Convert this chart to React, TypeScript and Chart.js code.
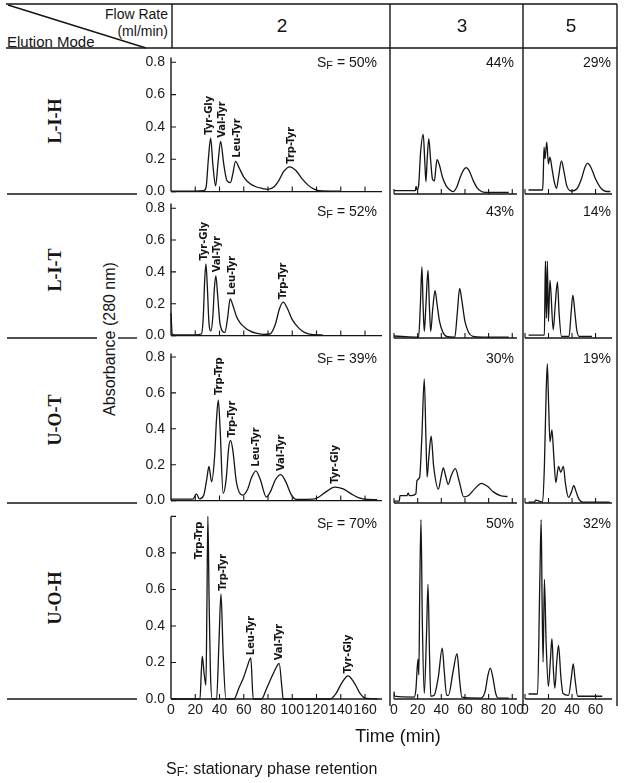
import React, { useEffect, useRef } from 'react';
import { Chart, registerables } from 'chart.js';
Chart.register(...registerables);

// ---------- data: time (min) / absorbance (280 nm) ----------
// L-I-H
const lih2T = [0, 20, 27, 29, 30.8, 32.7, 34.6, 36.8, 38.8, 40.9, 43.5, 46, 49, 51, 53.2, 56, 60, 65, 70, 75, 80, 85, 89, 93, 98, 103, 108, 113, 118, 122, 140];
const lih2A = [0.003, 0.003, 0.006, 0.03, 0.2, 0.33, 0.16, 0.035, 0.18, 0.31, 0.17, 0.07, 0.055, 0.11, 0.187, 0.15, 0.09, 0.05, 0.03, 0.02, 0.014, 0.03, 0.07, 0.125, 0.153, 0.13, 0.08, 0.04, 0.015, 0.006, 0.003];
const lih3T = [0, 18, 18.6, 19.5, 20.8, 22.5, 24.7, 26, 27, 28, 29.4, 31, 32.5, 34.2, 35.3, 36.4, 38.5, 41, 44, 47, 50, 53, 56, 59, 61, 63.5, 67, 70.5, 74, 77, 85, 97];
const lih3A = [0.02, 0.02, 0.045, 0.025, 0.05, 0.25, 0.356, 0.2, 0.073, 0.2, 0.33, 0.2, 0.09, 0.078, 0.15, 0.205, 0.17, 0.1, 0.05, 0.025, 0.014, 0.04, 0.1, 0.145, 0.157, 0.14, 0.08, 0.035, 0.015, 0.01, 0.01, 0.01];
const lih5T = [3, 15, 15.5, 16.2, 17, 18.5, 19.9, 21.2, 23, 25, 26.8, 28.5, 31, 33, 35.5, 39.3, 44, 48, 51, 53.2, 56, 60, 64, 67, 70, 72.6];
const lih5A = [0.024, 0.024, 0.1, 0.28, 0.21, 0.31, 0.18, 0.22, 0.15, 0.07, 0.034, 0.1, 0.197, 0.14, 0.05, 0.018, 0.03, 0.09, 0.16, 0.183, 0.16, 0.09, 0.04, 0.02, 0.015, 0.015];
// L-I-T
const lit2T = [0, 1, 3, 20, 25, 26.5, 27.8, 28.8, 30, 31.3, 32.9, 34.5, 35.8, 37, 38.5, 40.5, 44.4, 46.5, 48.8, 51, 54, 57, 61, 65, 70, 76, 81.5, 86, 89.5, 92.5, 96, 100, 105, 110, 117, 125];
const lit2A = [0.14, 0.01, 0.005, 0.005, 0.01, 0.1, 0.35, 0.45, 0.3, 0.08, 0.03, 0.12, 0.3, 0.375, 0.25, 0.07, 0.02, 0.1, 0.23, 0.19, 0.12, 0.08, 0.05, 0.03, 0.015, 0.008, 0.01, 0.07, 0.17, 0.21, 0.17, 0.1, 0.05, 0.02, 0.006, 0.005];
const lit3T = [0, 10, 20.8, 22.3, 23.6, 24.6, 25.6, 27, 28.75, 29.9, 31, 32.8, 34.7, 36.5, 38.5, 41, 44.4, 51.4, 53.5, 55.5, 57.5, 60, 63, 66.7, 75, 97];
const lit3A = [0.012, 0.008, 0.005, 0.2, 0.43, 0.2, 0.04, 0.2, 0.41, 0.2, 0.04, 0.18, 0.287, 0.2, 0.1, 0.04, 0.01, 0.005, 0.15, 0.3, 0.22, 0.1, 0.035, 0.01, 0.005, 0.005];
const lit5T = [3, 16.5, 17, 17.4, 18.2, 19, 19.9, 21.25, 24, 25.7, 27.6, 29, 31, 37.5, 39.2, 40.7, 42.5, 44, 46, 57];
const lit5A = [0.018, 0.018, 0.3, 0.466, 0.12, 0.466, 0.1, 0.35, 0.05, 0.2, 0.34, 0.15, 0.01, 0.01, 0.15, 0.26, 0.15, 0.05, 0.01, 0.01];
// U-O-T
const uot2T = [0, 18, 21, 23.5, 27, 29.5, 31.3, 33.5, 36, 37.5, 39, 40.5, 43, 45.5, 47.5, 49.1, 51, 54, 59, 63, 66.5, 70, 73.5, 78.7, 82, 86, 90.5, 95, 99, 103.4, 117, 122, 128, 135, 142, 148, 155, 162, 170];
const uot2A = [0.008, 0.008, 0.037, 0.01, 0.03, 0.12, 0.19, 0.105, 0.25, 0.45, 0.56, 0.4, 0.04, 0.12, 0.29, 0.335, 0.28, 0.1, 0.03, 0.06, 0.13, 0.166, 0.12, 0.02, 0.05, 0.115, 0.145, 0.1, 0.035, 0.007, 0.008, 0.02, 0.05, 0.075, 0.065, 0.04, 0.015, 0.006, 0.005];
const uot3T = [0, 4.5, 5, 11, 12, 13, 14.7, 18.5, 19.4, 21.7, 23.5, 25.6, 27, 28, 29.5, 31.4, 33.5, 37.5, 39.8, 41.7, 43.5, 45.8, 48.5, 51.9, 55, 59, 63, 68, 74, 79, 84, 90, 96];
const uot3A = [0.01, 0.01, 0.04, 0.04, 0.055, 0.04, 0.04, 0.05, 0.12, 0.14, 0.35, 0.67, 0.35, 0.14, 0.25, 0.36, 0.2, 0.075, 0.14, 0.19, 0.15, 0.1, 0.15, 0.185, 0.12, 0.033, 0.04, 0.075, 0.106, 0.09, 0.06, 0.04, 0.035];
const uot5T = [3, 8, 9, 15, 16.5, 18, 19, 20, 21.25, 22.9, 24.5, 26.25, 28.5, 30.4, 32.6, 34.5, 37, 39.5, 41.5, 43.5, 46, 49, 60, 72];
const uot5A = [0.005, 0.005, 0.015, 0.005, 0.2, 0.6, 0.75, 0.55, 0.33, 0.395, 0.25, 0.11, 0.197, 0.166, 0.197, 0.1, 0.03, 0.06, 0.093, 0.06, 0.02, 0.005, 0.005, 0.005];
// U-O-H
const uoh2T = [0, 23.9, 25, 25.8, 27.3, 28.8, 29.6, 30.4, 31.4, 32.5, 34, 37.6, 39.5, 41.2, 43, 45.3, 51.9, 56, 60, 63, 65.8, 67.8, 74.6, 79, 83, 86.5, 89.2, 91.5, 92.5, 131, 136, 141, 146, 151, 156, 161, 170];
const uoh2A = [0, 0, 0.15, 0.234, 0.14, 0.076, 0.5, 1.0, 0.55, 0.15, 0, 0, 0.3, 0.575, 0.25, 0, 0, 0.06, 0.12, 0.18, 0.225, 0, 0, 0.06, 0.12, 0.17, 0.195, 0.06, 0, 0, 0.03, 0.09, 0.127, 0.09, 0.03, 0.003, 0];
const uoh3T = [0, 0.5, 17, 18.5, 20.3, 21, 21.8, 22.8, 24, 25.6, 27.5, 28.75, 30, 31.1, 34, 37.5, 40.8, 42.5, 44.5, 46, 50, 53.3, 55.5, 57.4, 73.6, 77, 79.5, 81.4, 83.5, 86, 88, 97];
const uoh3A = [0.04, 0.015, 0.01, 0.05, 0.215, 0.13, 0.6, 0.97, 0.4, 0.03, 0.35, 0.62, 0.25, 0.015, 0.02, 0.12, 0.275, 0.15, 0.02, 0.02, 0.15, 0.245, 0.1, 0.01, 0.005, 0.04, 0.13, 0.167, 0.12, 0.03, 0.005, 0.005];
const uoh5T = [3, 10.7, 12.5, 13.75, 14.6, 15.4, 16.5, 18, 19.9, 21.5, 22.9, 24.2, 25.4, 27, 28.5, 30.5, 32.3, 37, 39.5, 41, 42.7, 44.8, 50, 65.7];
const uoh5A = [0.027, 0.027, 0.6, 0.97, 0.5, 0.2, 0.647, 0.3, 0.067, 0.2, 0.326, 0.15, 0.058, 0.2, 0.29, 0.12, 0.03, 0.02, 0.12, 0.19, 0.1, 0.015, 0.015, 0.015];

// peak labels (text, anchored at time / absorbance of the label's lower end)
const lih2Peaks = [
  { text: 'Tyr-Gly', t: 31.1, v: 0.352 },
  { text: 'Val-Tyr', t: 41.8, v: 0.333 },
  { text: 'Leu-Tyr', t: 54.2, v: 0.209 },
  { text: 'Trp-Tyr', t: 98.7, v: 0.173 },
];
const lit2Peaks = [
  { text: 'Tyr-Gly', t: 27.5, v: 0.471 },
  { text: 'Val-Tyr', t: 37.7, v: 0.397 },
  { text: 'Leu-Tyr', t: 50.1, v: 0.254 },
  { text: 'Trp-Tyr', t: 92.8, v: 0.228 },
];
const uot2Peaks = [
  { text: 'Trp-Trp', t: 39.6, v: 0.588 },
  { text: 'Trp-Tyr', t: 50.1, v: 0.352 },
  { text: 'Leu-Tyr', t: 70.1, v: 0.189 },
  { text: 'Val-Tyr', t: 90.7, v: 0.165 },
  { text: 'Tyr-Gly', t: 135.3, v: 0.094 },
];
const uoh2Peaks = [
  { text: 'Trp-Trp', t: 23.3, v: 0.766 },
  { text: 'Trp-Tyr', t: 43.1, v: 0.593 },
  { text: 'Leu-Tyr', t: 66, v: 0.24 },
  { text: 'Val-Tyr', t: 89.1, v: 0.212 },
  { text: 'Tyr-Gly', t: 146.2, v: 0.14 },
];

// headers / annotations
const flowRates = ['2', '3', '5'];
const elutionModes = ['L-I-H', 'L-I-T', 'U-O-T', 'U-O-H'];
const sfCol2 = ['50%', '52%', '39%', '70%'];
const sfCol3 = ['44%', '43%', '30%', '50%'];
const sfCol5 = ['29%', '14%', '19%', '32%'];

// tick values
const xTicks2 = [0, 20, 40, 60, 80, 100, 120, 140, 160];
const xTicks3 = [0, 20, 40, 60, 80, 100];
const xTicks5 = [0, 20, 40, 60];
const yTicks = [0, 0.2, 0.4, 0.6, 0.8];
const yTicksTall = [0, 0.2, 0.4, 0.6, 0.8, 1.0];

// ---------- layout ----------
const COLS = [
  { l: 171, r: 382, xmax: 174, ticks: xTicks2 },
  { l: 394, r: 517, xmax: 104, ticks: xTicks3 },
  { l: 525, r: 612, xmax: 74, ticks: xTicks5 },
];
const ROWS = [
  { t: 55, b: 194, ymax: 0.83, ticks: yTicks },
  { t: 201, b: 338, ymax: 0.83, ticks: yTicks },
  { t: 351, b: 503, ymax: 0.82, ticks: yTicks },
  { t: 514, b: 699, ymax: 1.0, ticks: yTicksTall },
];
const COL_X = [282, 462, 571];
const ROW_Y = [121, 270, 420, 598];
const SF_Y = [62, 211, 358, 523];
const SF_RIGHT = [377, 514, 611];

const PANELS = [
  { t: lih2T, a: lih2A, col: 0, row: 0, peaks: lih2Peaks },
  { t: lih3T, a: lih3A, col: 1, row: 0, peaks: [] },
  { t: lih5T, a: lih5A, col: 2, row: 0, peaks: [] },
  { t: lit2T, a: lit2A, col: 0, row: 1, peaks: lit2Peaks },
  { t: lit3T, a: lit3A, col: 1, row: 1, peaks: [] },
  { t: lit5T, a: lit5A, col: 2, row: 1, peaks: [] },
  { t: uot2T, a: uot2A, col: 0, row: 2, peaks: uot2Peaks },
  { t: uot3T, a: uot3A, col: 1, row: 2, peaks: [] },
  { t: uot5T, a: uot5A, col: 2, row: 2, peaks: [] },
  { t: uoh2T, a: uoh2A, col: 0, row: 3, peaks: uoh2Peaks },
  { t: uoh3T, a: uoh3A, col: 1, row: 3, peaks: [] },
  { t: uoh5T, a: uoh5A, col: 2, row: 3, peaks: [] },
];

const FONT = '"Liberation Sans", Arial, Helvetica, sans-serif';
const INK = '#151515';

const axesPlugin = {
  id: 'axes',
  afterDatasetsDraw(chart: any, _args: any, opts: any) {
    const { ctx, chartArea, scales } = chart;
    const { left, right, top, bottom } = chartArea;
    const x = scales.x, y = scales.y;
    ctx.save();
    ctx.strokeStyle = INK;
    ctx.lineWidth = 1.4;
    ctx.beginPath();
    ctx.moveTo(left, bottom);
    ctx.lineTo(right, bottom);
    if (opts.yAxis) {
      ctx.moveTo(left, bottom);
      ctx.lineTo(left, top);
    }
    ctx.stroke();
    ctx.lineWidth = 1.1;
    ctx.beginPath();
    (opts.xTicks as number[]).forEach((v) => {
      if (opts.yAxis && v === 0) return;
      const px = x.getPixelForValue(v);
      ctx.moveTo(px, bottom);
      ctx.lineTo(px, bottom - 5);
    });
    if (opts.yAxis) {
      (opts.yTicks as number[]).forEach((v) => {
        const py = y.getPixelForValue(v);
        ctx.moveTo(left, py);
        ctx.lineTo(left + 5, py);
      });
    }
    ctx.stroke();
    ctx.fillStyle = INK;
    ctx.font = 'bold 11px "Liberation Sans Narrow", "Arial Narrow", "DejaVu Sans Condensed", sans-serif';
    ctx.textAlign = 'left';
    ctx.textBaseline = 'middle';
    (opts.peaks as any[]).forEach((p) => {
      const px = x.getPixelForValue(p.t);
      const py = y.getPixelForValue(p.v);
      ctx.save();
      ctx.translate(px, py);
      ctx.rotate(-Math.PI / 2);
      ctx.fillText(p.text, 0, 0);
      ctx.restore();
    });
    ctx.restore();
  },
};

function Panel({ p }: { p: any }) {
  const ref = useRef<HTMLCanvasElement>(null);
  const c = COLS[p.col];
  const r = ROWS[p.row];
  const PAD = 12;
  const yW = p.col === 0 ? 36 : 0;
  const xH = p.row === 3 ? 22 : 0;
  const left = c.l - PAD - yW;
  const top = r.t - PAD;
  const width = c.r - c.l + 2 * PAD + yW;
  const height = r.b - r.t + 2 * PAD + xH;

  useEffect(() => {
    const chart = new Chart(ref.current as HTMLCanvasElement, {
      type: 'line',
      data: {
        datasets: [
          {
            data: p.t.map((t: number, i: number) => ({ x: t, y: p.a[i] })),
            borderColor: INK,
            borderWidth: 1.3,
            pointRadius: 0,
            cubicInterpolationMode: 'monotone',
            fill: false,
            clip: false,
          } as any,
        ],
      },
      options: {
        animation: false,
        responsive: false,
        maintainAspectRatio: false,
        events: [],
        layout: { padding: PAD, autoPadding: false } as any,
        plugins: {
          legend: { display: false },
          tooltip: { enabled: false },
          axes: { yAxis: p.col === 0, xTicks: c.ticks, yTicks: r.ticks, peaks: p.peaks },
        } as any,
        scales: {
          x: {
            type: 'linear',
            min: 0,
            max: c.xmax,
            display: p.row === 3,
            grid: { display: false, drawTicks: false },
            border: { display: false },
            afterBuildTicks: (s: any) => {
              s.ticks = c.ticks.map((v) => ({ value: v }));
            },
            afterFit: (s: any) => {
              s.height = xH;
            },
            ticks: {
              autoSkip: false,
              maxRotation: 0,
              minRotation: 0,
              padding: 3,
              color: '#1a1a1a',
              font: { family: FONT, size: 14 },
              callback: (v: any) => String(v),
            },
          },
          y: {
            type: 'linear',
            min: 0,
            max: r.ymax,
            display: p.col === 0,
            grid: { display: false, drawTicks: false },
            border: { display: false },
            afterBuildTicks: (s: any) => {
              s.ticks = r.ticks.map((v) => ({ value: v }));
            },
            afterFit: (s: any) => {
              s.width = yW;
            },
            ticks: {
              padding: 6,
              color: '#1a1a1a',
              font: { family: FONT, size: 14 },
              callback: (v: any) => (v > 0.85 ? '' : Number(v).toFixed(1)),
            },
          },
        } as any,
      },
      plugins: [axesPlugin as any],
    });
    return () => chart.destroy();
  }, []);

  return (
    <canvas
      ref={ref}
      width={width}
      height={height}
      style={{ position: 'absolute', left, top, width, height }}
    />
  );
}

const abs = (extra: any): any => ({ position: 'absolute', whiteSpace: 'nowrap', lineHeight: 1, ...extra });

function SF({ children }: { children?: any }) {
  return (
    <span>
      S<span style={{ fontSize: '0.78em', position: 'relative', top: '0.18em' }}>F</span>
      {children}
    </span>
  );
}

export default function App() {
  const lines: [number, number, number, number][] = [
    [6, 4, 617, 4],
    [6, 48, 617, 48],
    [8, 5, 146, 48],
    [172, 4, 172, 48],
    [390, 4, 390, 706],
    [523, 4, 523, 706],
    [617, 4, 617, 706],
    [7, 194, 137, 194],
    [7, 338, 97, 338],
    [118, 338, 137, 338],
    [7, 503, 137, 503],
    [7, 699, 137, 699],
  ];
  return (
    <div
      style={{
        position: 'absolute',
        left: 0,
        top: 0,
        width: 624,
        height: 783,
        background: '#fff',
        overflow: 'hidden',
        fontFamily: FONT,
        color: INK,
      }}
    >
      <svg width={624} height={783} style={{ position: 'absolute', left: 0, top: 0 }}>
        {lines.map((l, i) => (
          <line key={i} x1={l[0]} y1={l[1]} x2={l[2]} y2={l[3]} stroke={INK} strokeWidth={1.4} />
        ))}
      </svg>
      {PANELS.map((p, i) => (
        <Panel key={i} p={p} />
      ))}
      {/* header */}
      <div style={abs({ right: 624 - 168, top: 14, transform: 'translateY(-50%)', fontSize: 14 })}>Flow Rate</div>
      <div style={abs({ right: 624 - 168, top: 31, transform: 'translateY(-50%)', fontSize: 14 })}>(ml/min)</div>
      <div style={abs({ left: 7, top: 41, transform: 'translateY(-50%)', fontSize: 15 })}>Elution Mode</div>
      {flowRates.map((f, i) => (
        <div key={f} style={abs({ left: COL_X[i], top: 25, transform: 'translate(-50%,-50%)', fontSize: 19 })}>
          {f}
        </div>
      ))}
      {elutionModes.map((m, i) => (
        <div
          key={m}
          style={abs({
            left: 55,
            top: ROW_Y[i],
            transform: 'translate(-50%,-50%) rotate(-90deg)',
            fontSize: 18,
            fontWeight: 'bold',
            fontFamily: '"Liberation Serif", "Times New Roman", serif',
          })}
        >
          {m}
        </div>
      ))}
      {/* SF labels */}
      {sfCol2.map((s, i) => (
        <div key={'a' + i} style={abs({ right: 624 - SF_RIGHT[0], top: SF_Y[i], transform: 'translateY(-50%)', fontSize: 14 })}>
          <SF>{' = ' + s}</SF>
        </div>
      ))}
      {sfCol3.map((s, i) => (
        <div key={'b' + i} style={abs({ right: 624 - SF_RIGHT[1], top: SF_Y[i], transform: 'translateY(-50%)', fontSize: 14 })}>
          {s}
        </div>
      ))}
      {sfCol5.map((s, i) => (
        <div key={'c' + i} style={abs({ right: 624 - SF_RIGHT[2], top: SF_Y[i], transform: 'translateY(-50%)', fontSize: 14 })}>
          {s}
        </div>
      ))}
      {/* axis titles */}
      <div style={abs({ left: 110, top: 339, transform: 'translate(-50%,-50%) rotate(-90deg)', fontSize: 16 })}>
        Absorbance (280 nm)
      </div>
      <div style={abs({ left: 398, top: 736, transform: 'translate(-50%,-50%)', fontSize: 18 })}>Time (min)</div>
      <div style={abs({ left: 166, top: 769, transform: 'translateY(-50%)', fontSize: 16 })}>
        <SF>: stationary phase retention</SF>
      </div>
    </div>
  );
}
